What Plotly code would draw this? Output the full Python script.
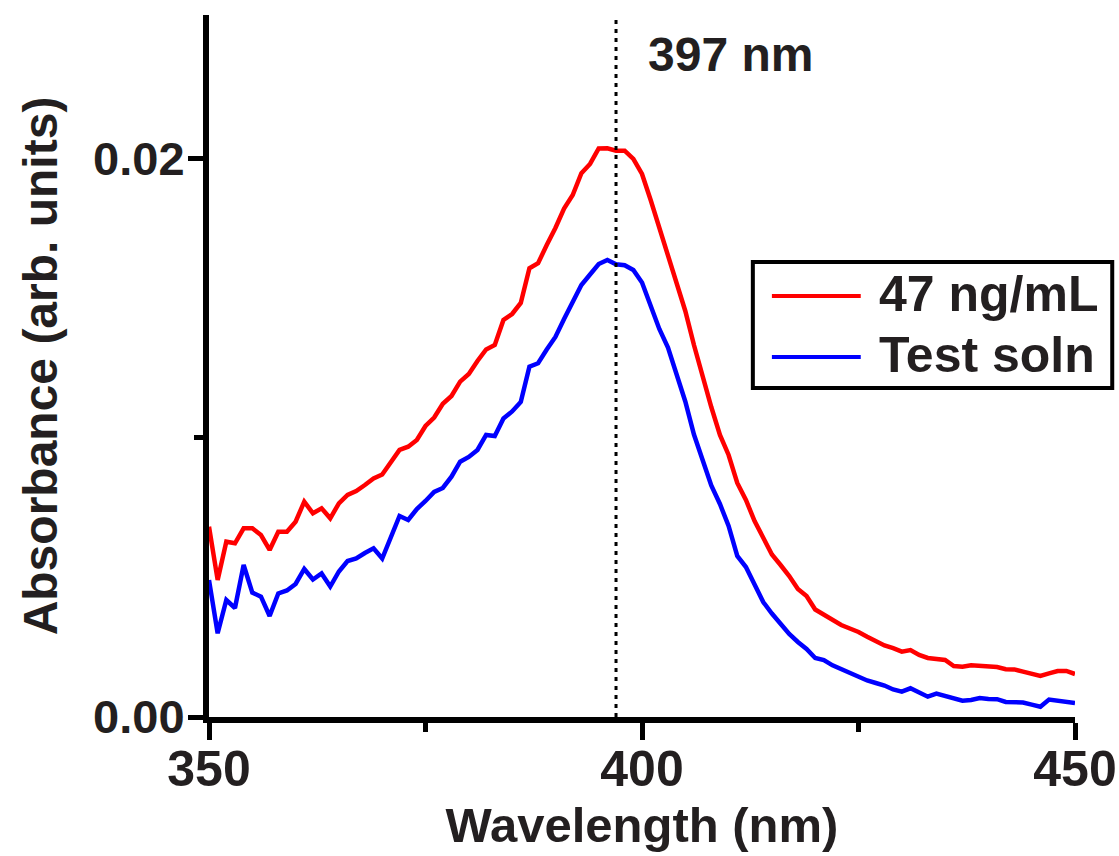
import plotly.graph_objects as go

wavelength = list(range(350, 451))

abs_47ng = [
    0.006821, 0.00491, 0.006283, 0.006226, 0.006763, 0.006763, 0.006523, 0.005986, 0.006642, 0.006642,
    0.0070, 0.007717, 0.007301, 0.00748, 0.007122, 0.00766, 0.007957, 0.0081, 0.008315, 0.008548,
    0.008692, 0.009104, 0.00957, 0.009688, 0.009928, 0.01043, 0.010735, 0.011226, 0.011505, 0.012018,
    0.012294, 0.01276, 0.013172, 0.013333, 0.014229, 0.014444, 0.014839, 0.016082, 0.016262, 0.016918,
    0.017527, 0.018226, 0.01871, 0.019487, 0.019821, 0.020376, 0.020383, 0.020297, 0.020297, 0.0200,
    0.019462, 0.01853, 0.017527, 0.016595, 0.015591, 0.014552, 0.013333, 0.012197, 0.011111, 0.010108,
    0.009391, 0.008387, 0.007778, 0.007025, 0.00638, 0.005824, 0.005448, 0.005054, 0.004588, 0.004337,
    0.003853, 0.003656, 0.003477, 0.003297, 0.003172, 0.003047, 0.002878, 0.002706, 0.002563, 0.002466,
    0.00234, 0.002401, 0.002222, 0.002115, 0.002068, 0.002043, 0.001828, 0.001803, 0.001853, 0.001842,
    0.001817, 0.001792, 0.00171, 0.001706, 0.001627, 0.001541, 0.00147, 0.001566, 0.001649, 0.001649,
    0.001541,
]

abs_test = [
    0.00491, 0.0030, 0.004194, 0.003907, 0.005448, 0.00446, 0.004312, 0.00362, 0.004427, 0.004534,
    0.004767, 0.005305, 0.004928, 0.005143, 0.004677, 0.005215, 0.005591, 0.005681, 0.005878, 0.006047,
    0.005681, 0.006452, 0.007204, 0.007061, 0.007455, 0.007742, 0.008065, 0.008208, 0.008613, 0.009151,
    0.009319, 0.00957, 0.010108, 0.010072, 0.010699, 0.01095, 0.01129, 0.012556, 0.012677, 0.013172,
    0.01362, 0.014265, 0.014875, 0.015484, 0.01586, 0.016237, 0.01638, 0.016226, 0.016194, 0.016022,
    0.015573, 0.014731, 0.013907, 0.013244, 0.01233, 0.011308, 0.010125, 0.009194, 0.008297, 0.007634,
    0.006846, 0.005771, 0.005376, 0.004749, 0.004122, 0.00371, 0.003315, 0.002975, 0.002688, 0.002437,
    0.002115, 0.002043, 0.001853, 0.00172, 0.001595, 0.001423, 0.001308, 0.001219, 0.001129, 0.000986,
    0.000907, 0.001029, 0.000871, 0.000728, 0.000835, 0.000753, 0.000634, 0.000581, 0.000609, 0.000681,
    0.000645, 0.000638, 0.000538, 0.000538, 0.00052, 0.000444, 0.000369, 0.000627, 0.000573, 0.000527,
    0.000502,
]

series_names = ["47 ng/mL", "Test soln"]
series_colors = ["#ff0000", "#0000ff"]
peak_nm = 397
peak_label = "397 nm"
x_ticks = [350, 400, 450]
y_ticks = [0.0, 0.02]
y_tick_text = ["0.00", "0.02"]

TXT = "#231f20"
BOLD = "Liberation Sans, Arial, sans-serif"

fig = go.Figure()
for ys, name, col in zip([abs_47ng, abs_test], series_names, series_colors):
    fig.add_trace(go.Scatter(x=wavelength, y=ys, mode="lines", name=name,
                             line=dict(color=col, width=4.5), showlegend=False))

fig.update_layout(
    width=1119, height=856,
    margin=dict(l=209, r=44, t=15, b=139),
    paper_bgcolor="white", plot_bgcolor="white",
    showlegend=False,
)

fig.update_xaxes(
    range=[350, 450], tickmode="array", tickvals=x_ticks,
    ticktext=[str(v) for v in x_ticks],
    showgrid=False, zeroline=False, automargin=False,
    showline=True, linecolor="black", linewidth=6,
    ticks="outside", ticklen=17, tickwidth=5, tickcolor="black",
    ticklabelstandoff=-14,
    minor=dict(tickmode="array", tickvals=[375, 425], ticks="outside", ticklen=9, tickwidth=5, tickcolor="black"),
    tickfont=dict(family=BOLD, size=50, color=TXT, weight="bold"),
    title=dict(text="Wavelength (nm)", font=dict(family=BOLD, size=49, color=TXT, weight="bold"), standoff=14),
)
fig.update_yaxes(
    range=[0, 0.02516], tickmode="array", tickvals=y_ticks, ticktext=y_tick_text,
    showgrid=False, zeroline=False, automargin=False,
    showline=True, linecolor="black", linewidth=6,
    ticks="outside", ticklen=15, tickwidth=5, tickcolor="black",
    ticklabelstandoff=-6,
    minor=dict(tickmode="array", tickvals=[0.01], ticks="outside", ticklen=9, tickwidth=5, tickcolor="black"),
    tickfont=dict(family=BOLD, size=47, color=TXT, weight="bold"),
    title=dict(text="Absorbance (arb. units)", font=dict(family=BOLD, size=48, color=TXT, weight="bold"), standoff=22),
)

# dotted marker at the peak wavelength
fig.add_shape(type="line", xref="x", yref="paper", x0=peak_nm, x1=peak_nm, y0=0, y1=1,
              line=dict(color="black", width=3, dash="4px,5px"))
fig.add_annotation(x=peak_nm, xref="x", y=0.944, yref="paper", text=peak_label, showarrow=False,
                   xanchor="left", yanchor="middle", xshift=30,
                   font=dict(family=BOLD, size=48, color=TXT, weight="bold"))

# legend box
fig.add_shape(type="rect", xref="paper", yref="paper", x0=0.628, x1=1.043, y0=0.4686, y1=0.648,
              line=dict(color="black", width=4), fillcolor="white", layer="above")
leg_y = [0.5997, 0.5128]
for yy, name, col in zip(leg_y, series_names, series_colors):
    fig.add_shape(type="line", xref="paper", yref="paper", x0=0.650, x1=0.7526, y0=yy, y1=yy,
                  line=dict(color=col, width=4), layer="above")
    fig.add_annotation(x=0.771, xref="paper", y=yy, yref="paper", text=name, showarrow=False,
                       xanchor="left", yanchor="middle", yshift=2,
                       font=dict(family=BOLD, size=50, color=TXT, weight="bold"))

fig.write_html("out.html")
